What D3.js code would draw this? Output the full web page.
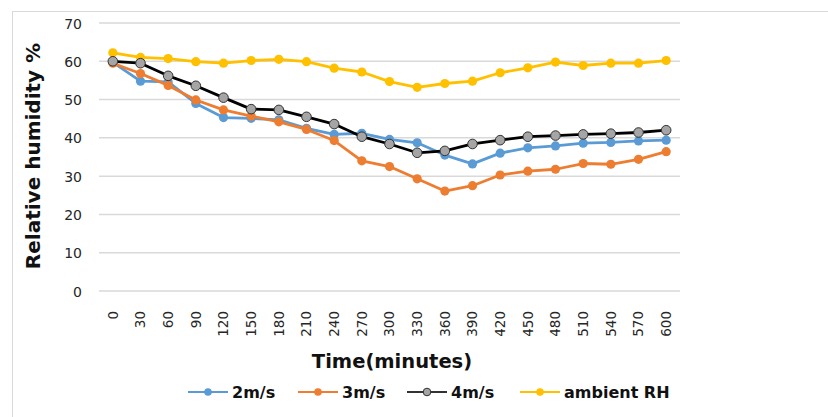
<!DOCTYPE html>
<html><head><meta charset="utf-8">
<script src="https://cdn.jsdelivr.net/npm/d3@7"></script>
<style>body{margin:0;background:#fff}svg{display:block}text{font-family:"DejaVu Sans",Verdana,sans-serif}</style>
</head><body><svg id="c" width="828" height="417"></svg>
<script>
const times = [0,30,60,90,120,150,180,210,240,270,300,330,360,390,420,450,480,510,540,570,600];
const s2 = [59.7,54.8,54.6,49.0,45.3,45.1,44.7,42.5,40.9,41.2,39.6,38.7,35.5,33.2,36.0,37.4,37.9,38.6,38.8,39.2,39.4];
const s3 = [59.5,56.8,53.7,49.9,47.3,45.7,44.2,42.2,39.3,34.0,32.5,29.3,26.1,27.5,30.3,31.3,31.8,33.3,33.1,34.4,36.4];
const s4 = [60.0,59.5,56.2,53.6,50.5,47.5,47.3,45.5,43.6,40.3,38.4,36.1,36.6,38.4,39.4,40.3,40.6,40.9,41.1,41.4,42.0];
const ambient = [62.2,61.0,60.7,59.9,59.5,60.2,60.5,59.9,58.2,57.2,54.7,53.2,54.2,54.8,57.0,58.3,59.8,58.9,59.5,59.5,60.2];
const yTicks = [0,10,20,30,40,50,60,70];
const seriesNames = ["2m/s","3m/s","4m/s","ambient RH"];

const series = [
  {name: seriesNames[0], values: s2, color: "#5B9BD5", fill: "#5B9BD5", stroke: "none"},
  {name: seriesNames[1], values: s3, color: "#ED7D31", fill: "#ED7D31", stroke: "none"},
  {name: seriesNames[2], values: s4, color: "#000000", fill: "#A5A5A5", stroke: "#333"},
  {name: seriesNames[3], values: ambient, color: "#FFC000", fill: "#FFC000", stroke: "none"}
];
const drawOrder = [0,1,3,2];

const svg = d3.select("#c");
svg.append("rect").attr("x",12.5).attr("y",11.5).attr("width",840).attr("height",420)
  .attr("fill","none").attr("stroke","#d9d9d9").attr("stroke-width",1);

const L = 99, R = 680, T = 23, B = 291;
const x = d3.scaleBand().domain(times).range([L,R]);
const y = d3.scaleLinear().domain([0,70]).range([B,T]);

// gridlines
svg.append("g").selectAll("line").data(yTicks).join("line")
  .attr("x1",L).attr("x2",R).attr("y1",d=>y(d)).attr("y2",d=>y(d))
  .attr("stroke","#d9d9d9").attr("stroke-width",1.5);

// y axis labels
const yAxis = d3.axisLeft(y).tickValues(yTicks).tickSize(0).tickPadding(0);
const gy = svg.append("g").attr("transform",`translate(${L-17},0)`).call(yAxis);
gy.select(".domain").remove();
gy.selectAll("text").attr("font-size",14).attr("fill","#262626").attr("dy","0.36em")
  .style("font-family","'DejaVu Sans',sans-serif");

// x axis labels
const xAxis = d3.axisBottom(x).tickSize(0).tickPadding(0);
const gx = svg.append("g").attr("transform",`translate(0,${B})`).call(xAxis);
gx.select(".domain").remove();
gx.selectAll("text").attr("font-size",13.5).attr("fill","#262626")
  .style("font-family","'DejaVu Sans',sans-serif")
  .attr("transform","rotate(-90)").attr("text-anchor","end")
  .attr("x",-20).attr("y",0).attr("dy","0.36em");

// axis titles
svg.append("text").attr("transform",`translate(40,${156}) rotate(-90)`)
  .attr("text-anchor","middle").attr("font-size",20).attr("font-weight","bold").attr("fill","#111")
  .text("Relative humidity %");
svg.append("text").attr("x",392).attr("y",368).attr("text-anchor","middle")
  .attr("font-size",19.5).attr("font-weight","bold").attr("fill","#111").text("Time(minutes)");

// lines
const cx = d => x(d) + x.bandwidth()/2;
const line = d3.line().x((v,i)=>cx(times[i])).y(v=>y(v));
drawOrder.forEach(k => {
  const s = series[k];
  const g = svg.append("g");
  g.append("path").attr("d", line(s.values)).attr("fill","none")
    .attr("stroke", s.color).attr("stroke-width", 2.8).attr("stroke-linejoin","round");
  g.selectAll("circle").data(s.values).join("circle")
    .attr("cx",(v,i)=>cx(times[i])).attr("cy",v=>y(v)).attr("r", k===2?4.8:4.6)
    .attr("fill", s.fill).attr("stroke", s.stroke).attr("stroke-width", k===2?1:0);
});

// legend
const legX = [188, 298, 407, 520];
const lg = svg.append("g");
series.forEach((s,k) => {
  const g = lg.append("g").attr("transform",`translate(${legX[k]},392)`);
  g.append("line").attr("x1",0).attr("x2",40).attr("y1",0).attr("y2",0)
    .attr("stroke", s.color === "#000000" ? "#333" : s.color).attr("stroke-width",2);
  g.append("circle").attr("cx",20).attr("cy",0).attr("r",3.8)
    .attr("fill", s.fill).attr("stroke", s.stroke).attr("stroke-width", k===2?1:0);
  g.append("text").attr("x",44).attr("y",0).attr("dy","0.36em")
    .attr("font-size",16).attr("font-weight","bold").attr("fill","#111").text(s.name);
});
</script></body></html>
